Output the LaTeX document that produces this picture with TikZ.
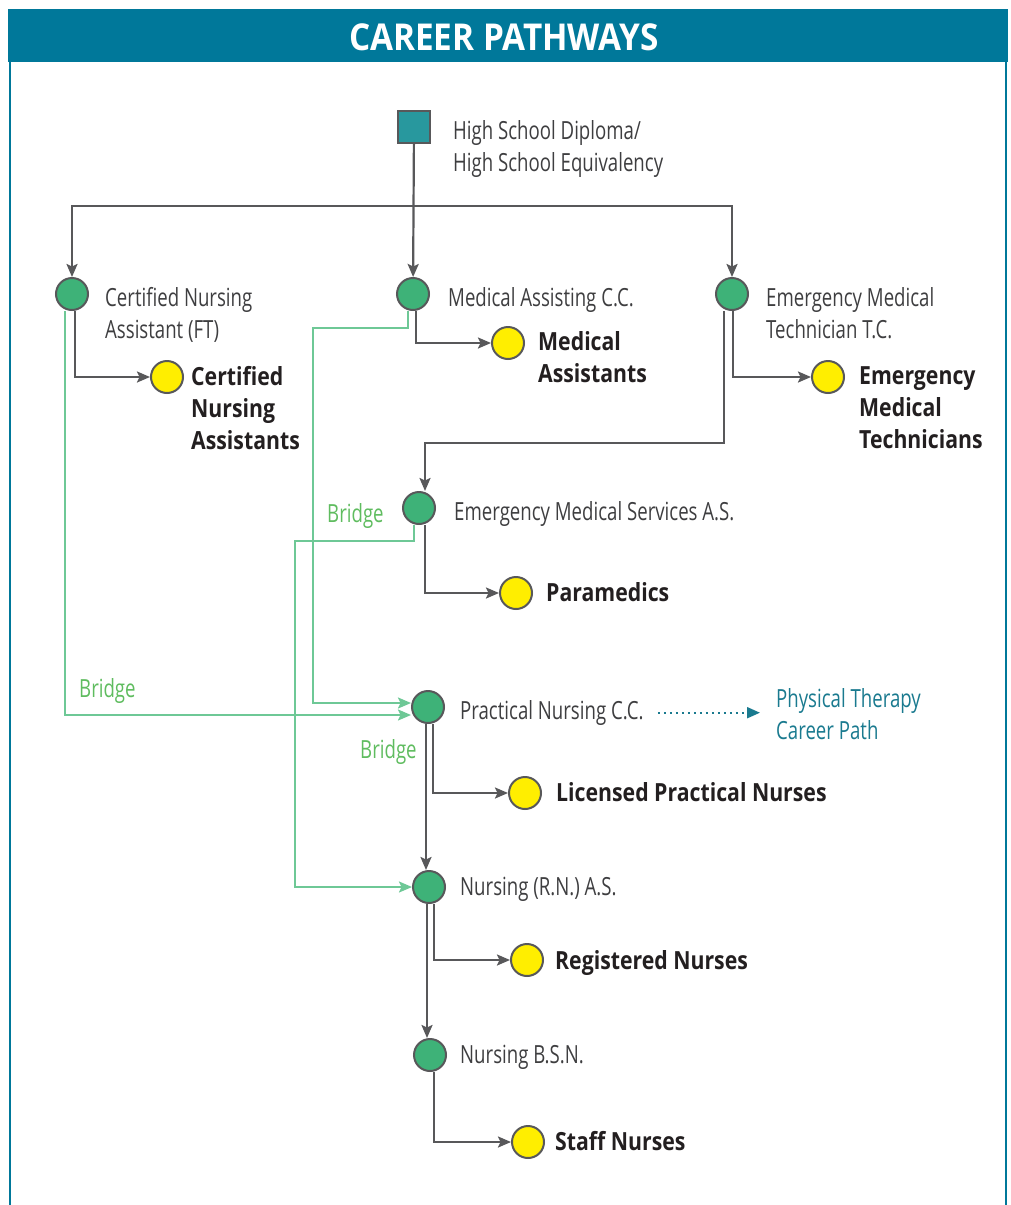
\documentclass[tikz,border=0pt]{standalone}
\usepackage{fontspec}
\setmainfont{Open Sans}
\newfontfamily\thinfont[FakeStretch=0.745]{Open Sans}
\newfontfamily\headfont[FakeStretch=0.85]{Open Sans}
\newfontfamily\titlefont[FakeStretch=0.9]{Open Sans}
\usetikzlibrary{positioning,calc,arrows.meta}

\definecolor{barblue}{RGB}{0,120,154}
\definecolor{linegray}{RGB}{88,88,90}
\definecolor{stepgreen}{RGB}{62,178,120}
\definecolor{jobyellow}{RGB}{255,238,0}
\definecolor{bridgeline}{RGB}{110,200,150}
\definecolor{bridgetext}{RGB}{95,188,95}
\definecolor{squareteal}{RGB}{40,152,158}
\definecolor{ptteal}{RGB}{26,122,143}
\definecolor{progtext}{RGB}{62,62,64}
\definecolor{jobtext}{RGB}{35,31,32}

\begin{document}
\begin{tikzpicture}[x=1pt,y=-1pt,
  program/.style={circle,draw=linegray,fill=stepgreen,line width=2,minimum size=32,inner sep=0},
  job/.style={circle,draw=linegray,fill=jobyellow,line width=2,minimum size=32,inner sep=0},
  diploma/.style={rectangle,draw=linegray,fill=squareteal,line width=2,minimum size=32,inner sep=0},
  proglabel/.style={anchor=north west,inner sep=0,align=left,text=progtext,font=\thinfont\fontsize{25}{32}\selectfont},
  joblabel/.style={anchor=north west,inner sep=0,align=left,text=jobtext,font=\headfont\bfseries\fontsize{25}{32}\selectfont},
  bridgelabel/.style={anchor=north west,inner sep=0,text=bridgetext,font=\thinfont\fontsize{25}{32}\selectfont},
  flow/.style={draw=linegray,line width=2.2,-{Stealth[length=13,width=11,inset=2.5]}},
  bridge/.style={draw=bridgeline,line width=2,-{Stealth[length=13,width=11,inset=2.5]}},
  ptpath/.style={draw=ptteal,line width=2,dash pattern=on 2 off 4,-{Triangle[length=13,width=11]}}]
\useasboundingbox (0,0) rectangle (1011,1205);

\fill[barblue] (8,9) rectangle (1008,62);
\node[text=white,font=\titlefont\bfseries\fontsize{37}{42}\selectfont] (head) at (504,37) {CAREER PATHWAYS};
\draw[barblue,line width=2.5] (10,62) -- (10,1205);
\draw[barblue,line width=2.5] (1006,62) -- (1006,1205);

\node[diploma] (hs) at (414,127) {};
\node[proglabel] (hslbl) at (453,120) {High School Diploma/\\High School Equivalency};

\node[program] (cna) at (72,294) {};
\node[program] (ma) at (413,294) {};
\node[program] (emt) at (732,294) {};
\node[program] (ems) at (419,508) {};
\node[program] (pn) at (428,707) {};
\node[program] (rn) at (429,887) {};
\node[program] (bsn) at (430,1055) {};

\node[proglabel] (cnalbl) at (105,287) {Certified Nursing\\Assistant (FT)};
\node[proglabel] (malbl) at (448,287) {Medical Assisting C.C.};
\node[proglabel] (emtlbl) at (766,287) {Emergency Medical\\Technician T.C.};
\node[proglabel] (emslbl) at (454,501) {Emergency Medical Services A.S.};
\node[proglabel] (pnlbl) at (460,700) {Practical Nursing C.C.};
\node[proglabel] (rnlbl) at (460,877) {Nursing (R.N.) A.S.};
\node[proglabel] (bsnlbl) at (460,1045) {Nursing B.S.N.};

\node[job] (cnajob) at (167,377) {};
\node[job] (majob) at (508,343) {};
\node[job] (emtjob) at (828,377) {};
\node[job] (emsjob) at (516,593) {};
\node[job] (pnjob) at (525,793) {};
\node[job] (rnjob) at (527,960) {};
\node[job] (bsnjob) at (528,1142) {};

\node[joblabel] (cnajoblbl) at (191,366) {Certified\\Nursing\\Assistants};
\node[joblabel] (majoblbl) at (538,331) {Medical\\Assistants};
\node[joblabel] (emtjoblbl) at (859,366) {Emergency\\Medical\\Technicians};
\node[joblabel] (emsjoblbl) at (546,582) {Paramedics};
\node[joblabel] (pnjoblbl) at (556,782) {Licensed Practical Nurses};
\node[joblabel] (rnjoblbl) at (555,950) {Registered Nurses};
\node[joblabel] (bsnjoblbl) at (555,1131) {Staff Nurses};

\node[proglabel,text=ptteal] (ptlbl) at (776,688) {Physical Therapy\\Career Path};

\node[bridgelabel] (cnabr) at (79,678) {Bridge};
\node[bridgelabel] (emsbr) at (327,503) {Bridge};
\node[bridgelabel] (pnbr) at (360,739) {Bridge};

\coordinate (split) at (414,206);
\draw[flow] (hs) -- (ma);
\draw[flow] (split) -| (cna);
\draw[flow] (split) -| (emt);

\draw[flow] ([xshift=3]cna.south) |- (cnajob);
\draw[flow] ([xshift=3]ma.south) |- (majob);
\draw[flow] ([xshift=1]emt.south) |- (emtjob);
\draw[flow] ([xshift=-8]emt.south) |- ([xshift=6,yshift=48]ems.north) -- ([xshift=6]ems.north);
\draw[flow] ([xshift=6]ems.south) |- (emsjob);
\draw[flow] ([xshift=5]pn.south) |- (pnjob);
\draw[flow] ([xshift=-2]pn.south) -- ([xshift=-2]pn.south |- rn.north);
\draw[flow] ([xshift=5]rn.south) |- (rnjob);
\draw[flow] ([xshift=-2]rn.south) -- ([xshift=-2]rn.south |- bsn.north);
\draw[flow] ([xshift=4]bsn.south) |- (bsnjob);

\draw[bridge] ([xshift=-7]cna.south) |- ([yshift=-8]pn.west);
\draw[bridge] ([xshift=-5]ma.south) -- ++(0,17) -| ([xshift=-98,yshift=4]pn.west) -- ([yshift=4]pn.west);
\draw[bridge] ([xshift=-5]ems.south) -- ++(0,16) -| ([xshift=-117]rn.west) -- (rn.west);

\draw[ptpath] ([xshift=14]pnlbl.east) -- ([xshift=-16]pnlbl.east -| ptlbl.west);
\end{tikzpicture}
\end{document}
